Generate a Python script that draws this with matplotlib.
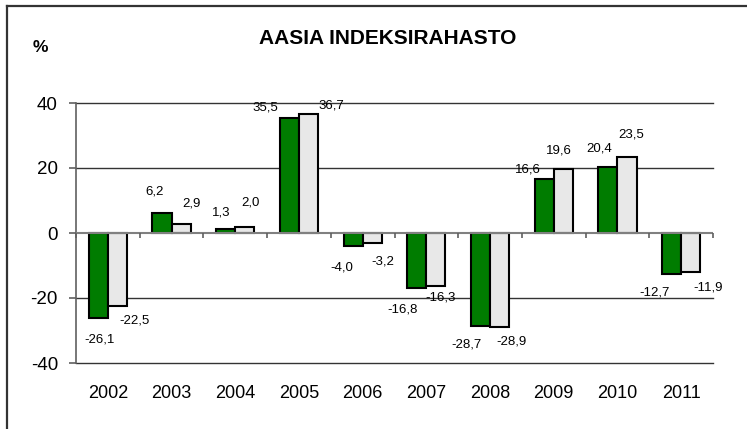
import matplotlib
matplotlib.use("Agg")
import matplotlib.pyplot as plt
from matplotlib.lines import Line2D
import numpy as np

plt.rcParams['font.family'] = ['Liberation Sans', 'DejaVu Sans']

years = ['2002', '2003', '2004', '2005', '2006', '2007', '2008', '2009', '2010', '2011']
fund = [-26.1, 6.2, 1.3, 35.5, -4.0, -16.8, -28.7, 16.6, 20.4, -12.7]
index = [-22.5, 2.9, 2.0, 36.7, -3.2, -16.3, -28.9, 19.6, 23.5, -11.9]
yticks = [-40, -20, 0, 20, 40]
title = 'AASIA INDEKSIRAHASTO'

# label offsets (pixels) relative to bar centre / bar end
fund_off = [(1, -22), (-7, 21), (-4, 16), (-24, 10), (-11, -22),
            (-14, -22), (-14, -18), (-16, 10), (-9, 18), (-17, -18)]
index_off = [(17, -14), (10, 20), (6, 24), (23, 8), (11, -18),
             (5, -12), (12, -15), (-4, 19), (4, 22), (17, -16)]

GREEN = '#007C00'
GREY = '#E8E8E8'
W, H = 747, 429
fig = plt.figure(figsize=(W / 100, H / 100), dpi=100)
ax = fig.add_axes([76 / W, 1 - 363 / H, (713 - 76) / W, (363 - 103) / H])

x = np.arange(len(years))
bw = 0.3
b1 = ax.bar(x - bw / 2, fund, bw, color=GREEN, edgecolor='black', linewidth=1.5, zorder=3)
b2 = ax.bar(x + bw / 2, index, bw, color=GREY, edgecolor='black', linewidth=1.5, zorder=3)

ax.set_xlim(-0.5, len(years) - 0.5)
ax.set_ylim(min(yticks), max(yticks))
ax.set_yticks(yticks)
ax.set_yticklabels([str(t) for t in yticks])
ax.set_xticks(x)
ax.set_xticklabels(years)

for t in yticks:
    if t != 0:
        ax.axhline(t, color='#333333', lw=1.0, zorder=1, clip_on=False)
ax.axhline(0, color='#808080', lw=1.5, zorder=4)
ax.vlines(np.arange(len(years) + 1) - 0.5, -1.6, 0, color='#606060', lw=1.2, zorder=4,
          clip_on=False)

for s in ['top', 'right', 'bottom']:
    ax.spines[s].set_visible(False)
ax.spines['left'].set_color('#606060')
ax.spines['left'].set_linewidth(1.2)
ax.tick_params(axis='y', length=5, width=1.2, color='#606060', pad=8, labelsize=13.5)
ax.tick_params(axis='x', length=0, pad=16, labelsize=13)

def fmt(v):
    return f'{v:.1f}'.replace('.', ',')

for bars, vals, offs in ((b1, fund, fund_off), (b2, index, index_off)):
    for b, v, (dx, dy) in zip(bars, vals, offs):
        cx = b.get_x() + b.get_width() / 2
        ax.annotate(fmt(v), (cx, v), xytext=(dx, dy), textcoords='offset pixels',
                    ha='center', va='center', fontsize=9.5, zorder=5)

fig.text(387.5 / W, 1 - 38 / H, title, ha='center', va='center', fontsize=15,
         fontweight='bold')
fig.text(40 / W, 1 - 48 / H, '%', ha='center', va='center', fontsize=12.5,
         fontweight='bold')

fig.add_artist(Line2D([7 / W, 7 / W], [0, 1 - 6 / H], color='#333333', lw=1.6))
fig.add_artist(Line2D([7 / W, 1], [1 - 6 / H, 1 - 6 / H], color='#333333', lw=1.6))

fig.savefig('out.png', dpi=100)
